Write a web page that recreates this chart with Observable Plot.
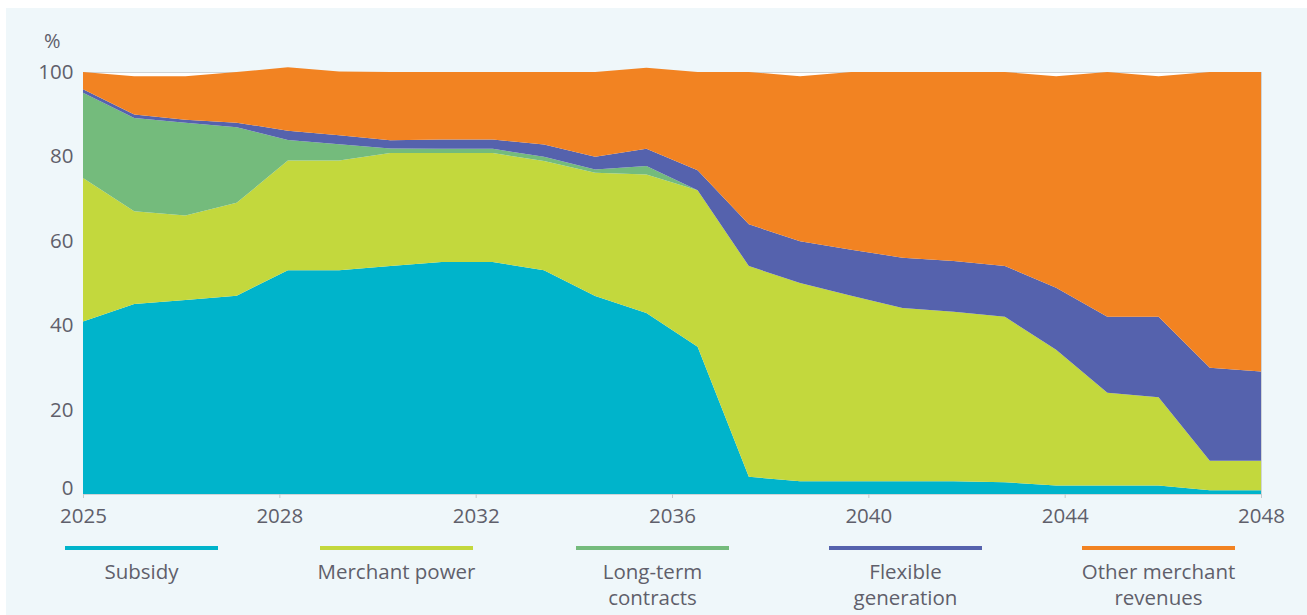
<!DOCTYPE html>
<html>
<head>
<meta charset="utf-8">
<script src="https://cdn.jsdelivr.net/npm/d3@7"></script>
<script src="https://cdn.jsdelivr.net/npm/@observablehq/plot@0.6"></script>
<style>
  html, body { margin: 0; padding: 0; background: #ffffff; }
  #page { position: relative; width: 1307px; height: 615px; overflow: hidden; background: #ffffff; font-family: "Open Sans", sans-serif; }
  #panel { position: absolute; left: 6px; top: 8px; width: 1301px; height: 607px; background: #eff7fa; }
  #chart { position: absolute; left: 0; top: 0; }
  #unit { position: absolute; left: 44px; top: 27px; font-size: 20px; color: #5f5f6b; }
  #legend { position: absolute; left: 0; top: 546px; width: 1307px; }
  .item { position: absolute; top: 0; width: 153px; text-align: center; }
  .swatch { height: 4px; width: 153px; }
  .lab { margin-top: 8px; font-size: 20.5px; line-height: 26px; color: #5f5f6b; white-space: nowrap; margin-left: -20px; margin-right: -20px; }
</style>
</head>
<body>
<div id="page">
  <div id="panel"></div>
  <div id="chart"></div>
  <div id="unit">%</div>
  <div id="legend"></div>
</div>
<script>
// ---- data ----
const years = [2025,2026,2027,2028,2029,2030,2031,2032,2033,2034,2035,2036,
               2037,2038,2039,2040,2041,2042,2043,2044,2045,2046,2047,2048];
const seriesNames = ["Subsidy","Merchant power","Long-term contracts","Flexible generation","Other merchant revenues"];
const legendLabels = [["Subsidy"],["Merchant power"],["Long-term","contracts"],["Flexible","generation"],["Other merchant","revenues"]];
const seriesColors = ["#00b4cb","#c3d83d","#74bb7c","#5562ad","#f28322"];
const subsidy   = [40.9,45,46,47,53,53,54,55,55,53,46.9,42.9,34.9,4.1,3,3,3,3,2.8,2,2,2,0.9,0.9];
const merchant  = [34,22,20,22,26,26,26.8,25.8,25.8,25.9,29.2,32.8,37.1,49.9,47,44,41.1,40.2,39.2,32.2,22,20.9,7,7];
const longTerm  = [20.2,22.1,22,17.9,4.9,3.9,1.1,1,1,1,0.8,2,0,0,0,0,0,0,0,0,0,0,0,0];
const flexible  = [0.8,0.8,0.7,1.1,2.2,2.1,1.9,2.2,2.2,2.9,3,4.1,4.7,9.9,9.9,10.9,11.9,12,12,14.7,18,19.1,22,21.1];
const otherRev  = [4.1,9.1,10.3,12,15,15.1,16.2,16,16,17.2,20.1,19.2,23.3,36.1,39.1,42.1,44,44.8,46,50.1,58,57,70.1,71];
const xTickLabels = ["2025","2028","2032","2036","2040","2044","2048"];
const yTicks = [20,40,60,80,100];
const yTickZero = [0];

// ---- build ----
const seriesValues = [subsidy, merchant, longTerm, flexible, otherRev];
const rows = seriesNames.flatMap((s, k) => years.map((yr, i) => ({year: yr, series: s, value: seriesValues[k][i]})));
const x0 = years[0], x1 = years[years.length - 1];
const step = (x1 - x0) / (xTickLabels.length - 1);
const xTickPos = xTickLabels.map((_, i) => x0 + i * step);
const txt = "#5f5f6b";

const chart = Plot.plot({
  width: 1307,
  height: 535,
  marginLeft: 83,
  marginRight: 46,
  marginTop: 72,
  marginBottom: 41,
  style: {background: "transparent", fontFamily: "'Open Sans', sans-serif", fontSize: "20.5px", color: txt, overflow: "visible"},
  x: {domain: [x0, x1]},
  y: {domain: [0, 100]},
  color: {domain: seriesNames, range: seriesColors},
  marks: [
    Plot.frame({fill: "white", stroke: "#cfd4d7"}),
    Plot.areaY(rows, {x: "year", y: "value", fill: "series", order: seriesNames}),
    Plot.axisX({ticks: xTickPos, tickFormat: d => xTickLabels[Math.round((d - x0) / step)],
                tickSize: 4, tickPadding: 10, stroke: "#c4c9cc", fill: txt, label: null}),
    Plot.axisY({ticks: yTicks, tickSize: 0, tickPadding: 10, fill: txt, label: null}),
    Plot.axisY({ticks: yTickZero, tickSize: 0, tickPadding: 10, fill: txt, label: null, dy: -6})
  ]
});
document.getElementById("chart").appendChild(chart);

// ---- legend ----
const legendLeft = [65, 320, 576, 829, 1082];
const legend = document.getElementById("legend");
seriesNames.forEach((s, k) => {
  const it = document.createElement("div");
  it.className = "item";
  it.style.left = legendLeft[k] + "px";
  const sw = document.createElement("div");
  sw.className = "swatch";
  sw.style.background = seriesColors[k];
  const lb = document.createElement("div");
  lb.className = "lab";
  lb.innerHTML = legendLabels[k].join("<br>");
  it.appendChild(sw);
  it.appendChild(lb);
  legend.appendChild(it);
});
</script>
</body>
</html>
